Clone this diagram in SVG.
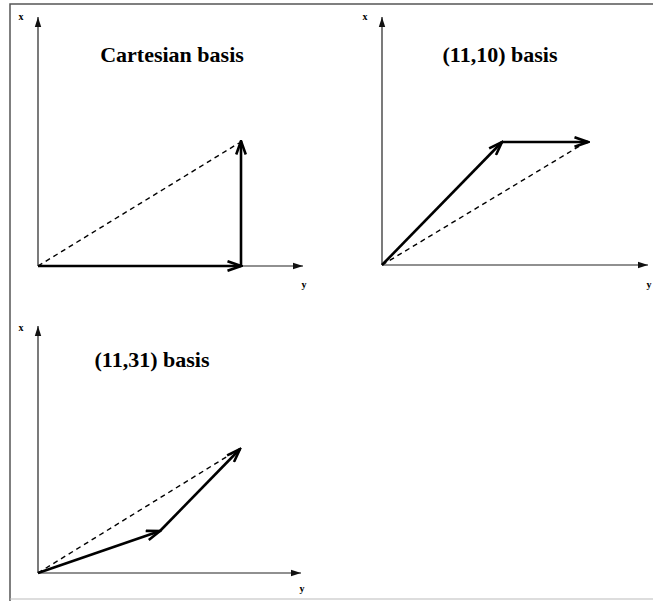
<svg xmlns="http://www.w3.org/2000/svg" width="653" height="601" viewBox="0 0 653 601">
<defs>
<marker id="axhead" markerUnits="userSpaceOnUse" markerWidth="10" markerHeight="8" viewBox="0 0 10 8" refX="10" refY="4" orient="auto">
<path d="M0,0.8 L10,4 L0,7.2 Z" fill="#111"/>
</marker>
<marker id="vhead" markerUnits="userSpaceOnUse" markerWidth="16" markerHeight="12" viewBox="0 0 16 12" refX="14.5" refY="6" orient="auto">
<path d="M1,1.2 L14.5,6 L1,10.8" fill="none" stroke="#000" stroke-width="2.6" stroke-linejoin="miter"/>
</marker>
</defs>
<style>
.frame{fill:none;stroke:#555;stroke-width:1.5}
.frameb{fill:none;stroke:#bbb;stroke-width:1}
.axis{stroke:#222;stroke-width:1.2;fill:none;marker-end:url(#axhead)}
.vec{stroke:#000;stroke-width:2.6;fill:none;marker-end:url(#vhead)}
.dash{stroke:#000;stroke-width:1.4;fill:none;stroke-dasharray:5,4}
.title{font-family:"Liberation Serif","Times New Roman",serif;font-weight:bold;font-size:22px;fill:#000;text-anchor:middle}
.lab{font-family:"Liberation Serif","Times New Roman",serif;font-weight:bold;font-size:10px;fill:#000;text-anchor:middle}
</style>
<rect width="653" height="601" fill="#fff"/>
<g id="frame">
<path class="frame" d="M10,601 L10,4 L653,4"/>
<path class="frameb" d="M10,599 L653,599"/>
</g>
<g id="panel-cartesian">
<text class="title" x="172" y="62">Cartesian basis</text>
<text class="lab" x="21" y="20">x</text>
<text class="lab" x="304" y="288">y</text>
</g>
<g id="panel-11-10">
<text class="title" x="500" y="62">(11,10) basis</text>
<text class="lab" x="365" y="20">x</text>
<text class="lab" x="649" y="288">y</text>
</g>
<g id="panel-11-31">
<text class="title" x="152" y="367">(11,31) basis</text>
<text class="lab" x="21" y="331">x</text>
<text class="lab" x="302" y="592">y</text>
</g>
<g id="connectors">
<line class="axis" x1="38" y1="266" x2="38" y2="17"/>
<line class="axis" x1="38" y1="266" x2="303" y2="266"/>
<line class="dash" x1="38" y1="266" x2="239" y2="143"/>
<line class="vec" x1="38" y1="266" x2="241" y2="266"/>
<line class="vec" x1="241" y1="266" x2="241" y2="141"/>

<line class="axis" x1="382" y1="265" x2="382" y2="17"/>
<line class="axis" x1="382" y1="265" x2="648" y2="265"/>
<line class="dash" x1="382" y1="265" x2="583" y2="144"/>
<line class="vec" x1="382" y1="265" x2="502" y2="142"/>
<line class="vec" x1="502" y1="142" x2="588" y2="142"/>

<line class="axis" x1="38" y1="573" x2="38" y2="326"/>
<line class="axis" x1="38" y1="573" x2="301" y2="573"/>
<line class="dash" x1="38" y1="573" x2="236" y2="451"/>
<line class="vec" x1="38" y1="573" x2="160" y2="531"/>
<line class="vec" x1="160" y1="531" x2="240" y2="449"/>
</g>
</svg>
